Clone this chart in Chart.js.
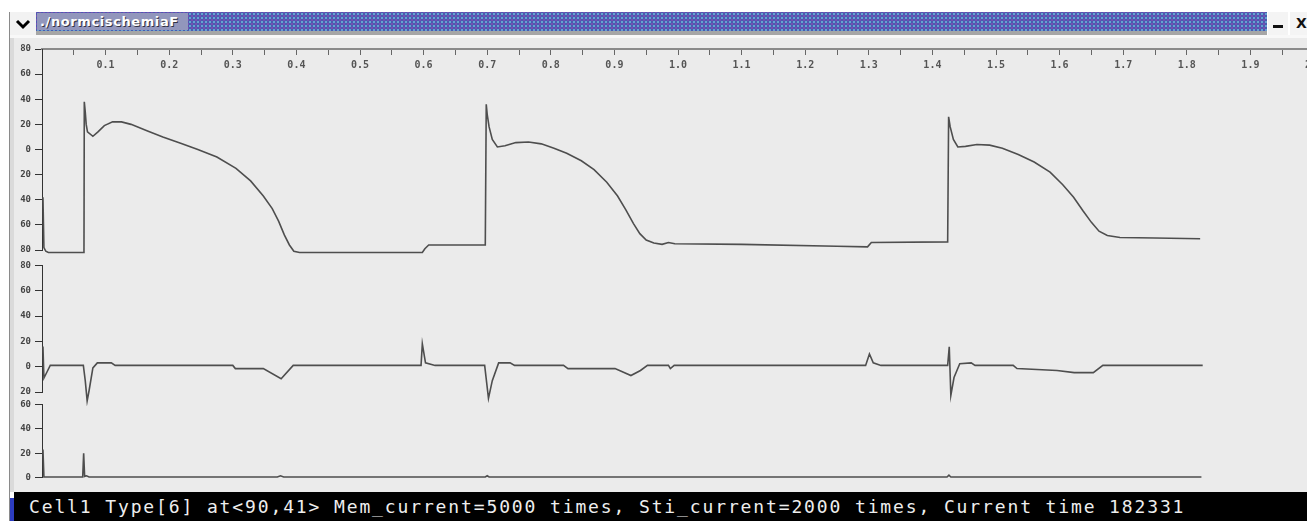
<!DOCTYPE html>
<html>
<head>
<meta charset="utf-8">
<script src="https://cdn.jsdelivr.net/npm/chart.js@4"></script>
<style>
html,body{margin:0;padding:0;background:#fff;width:1307px;height:521px;overflow:hidden;position:relative}
div,canvas,svg{position:absolute}
#frameL{left:9px;top:12px;width:1px;height:509px;background:#8a8a8a}
#frameIn{left:10px;top:38px;width:4px;height:454px;background:#dadada}
#menuBtn{left:10px;top:12px;width:26px;height:23px;background:#f2f2f2}
#titleBar{left:36px;top:12px;width:1231px;height:19px;
  background:radial-gradient(circle,rgba(120,210,230,.6) 0.7px,transparent 1.3px) 0 0/4px 4px,
             radial-gradient(circle,rgba(150,70,180,.55) 0.7px,transparent 1.3px) 2px 2px/4px 4px,#4b5bb0}
#titleBand{left:36px;top:31px;width:1231px;height:4px;background:#a6a6a6}
#titleText{left:37px;top:13px;width:148px;height:17px;padding-left:3px;background:#9296bc;color:#fff;
  font:bold 13px "DejaVu Sans",sans-serif;letter-spacing:0.6px;line-height:17px;text-shadow:1px 1px 0 #334;white-space:nowrap}
#minBtn{left:1268px;top:12px;width:20px;height:23px;background:#f4f4f4}
#minBar{left:1273px;top:25px;width:10px;height:3px;background:#111}
#closeBtn{left:1290px;top:12px;width:17px;height:23px;background:#f4f4f4;color:#111;
  font:bold 14px "DejaVu Sans",sans-serif;line-height:23px;text-indent:6px}
#sep{left:10px;top:35px;width:1297px;height:3px;background:#f8f8f8}
#content{left:14px;top:38px;width:1293px;height:454px;background:#ebebeb}
#status{left:14px;top:492px;width:1293px;height:29px;background:#000;color:#eeeeee;
  font:18px "DejaVu Sans Mono",monospace;letter-spacing:1.87px;line-height:29px;text-indent:15px;white-space:nowrap}
#blueBit{left:10px;top:498px;width:4px;height:23px;background:#2c3cbf}
</style>
</head>
<body>
<div id="frameL"></div>
<div id="frameIn"></div>
<div id="menuBtn"><svg width="26" height="23"><polyline points="7,9 13,15 19,9" fill="none" stroke="#000" stroke-width="3"/></svg></div>
<div id="titleBar"></div>
<div id="titleBand"></div>
<div id="titleText">./normcischemiaF</div>
<div id="minBtn"></div>
<div id="minBar"></div>
<div id="closeBtn">X</div>
<div id="sep"></div>
<div id="content"></div>
<canvas id="p1" width="1320" height="224" style="left:14px;top:38px"></canvas>
<canvas id="p2" width="1320" height="150" style="left:14px;top:256px"></canvas>
<canvas id="p3" width="1320" height="92" style="left:14px;top:395px"></canvas>
<div id="status">Cell1 Type[6] at&lt;90,41&gt; Mem_current=5000 times, Sti_current=2000 times, Current time 182331</div>
<div id="blueBit"></div>
<script>
const xTickLabels = ['', '0.1', '0.2', '0.3', '0.4', '0.5', '0.6', '0.7', '0.8', '0.9', '1.0',
    '1.1', '1.2', '1.3', '1.4', '1.5', '1.6', '1.7', '1.8', '1.9', '2.0'];

// top trace: membrane potential
const apTime = [0.0015, 0.003, 0.006, 0.010, 0.063, 0.066, 0.0665, 0.068, 0.0695, 0.0715, 0.080, 0.088,
    0.098, 0.111, 0.125, 0.140, 0.165, 0.190, 0.218, 0.245, 0.275, 0.305, 0.328, 0.348, 0.362, 0.372,
    0.381, 0.389, 0.396, 0.405, 0.598, 0.602, 0.608, 0.697, 0.6985, 0.700, 0.703, 0.708, 0.716, 0.728,
    0.745, 0.765, 0.785, 0.805, 0.825, 0.848, 0.868, 0.888, 0.905, 0.918, 0.930, 0.940, 0.950, 0.962,
    0.975, 0.985, 0.995, 1.100, 1.250, 1.298, 1.304, 1.424, 1.4255, 1.428, 1.433, 1.440, 1.452, 1.470,
    1.490, 1.510, 1.535, 1.560, 1.585, 1.605, 1.622, 1.637, 1.650, 1.662, 1.675, 1.695, 1.750, 1.821];
const apValue = [-38, -78, -81, -82, -82, -82, 38, 30, 20, 14, 10.5, 14,
    19, 22, 22, 20, 15, 10, 5, 0, -6, -15, -25, -37, -47, -57,
    -68, -76, -81, -82, -82, -79, -76, -76, 36, 28, 18, 8, 2, 3,
    5.5, 6, 4.5, 1, -3, -9, -16, -26, -37, -48, -59, -67, -72, -74.5,
    -75.5, -74, -75, -75.5, -77, -77.5, -74, -73.5, 26, 18, 8, 2, 2.5, 4,
    3.5, 1, -4, -10, -18, -28, -38, -49, -58, -65, -68.5, -70, -70.5, -71];

// middle trace
const ecgTime = [0.0015, 0.003, 0.008, 0.013, 0.065, 0.068, 0.071, 0.074, 0.080, 0.087, 0.109, 0.115,
    0.300, 0.304, 0.348, 0.376, 0.395, 0.596, 0.598, 0.603, 0.618, 0.696, 0.702, 0.708, 0.718, 0.736,
    0.743, 0.820, 0.827, 0.901, 0.926, 0.941, 0.952, 0.985, 0.988, 0.994, 1.295, 1.301, 1.307, 1.319,
    1.424, 1.4265, 1.429, 1.434, 1.443, 1.461, 1.467, 1.527, 1.533, 1.596, 1.623, 1.653, 1.668, 1.825];
const ecgValue = [16, -9, -4, 1, 1, -11, -27, -19, -1, 3, 3, 1,
    1, -1.5, -1.5, -9.5, 1, 1, 18, 3, 1, 1, -25, -11, 3, 3,
    1, 1, -1.5, -1.5, -7, -3, 1, 1, -1.5, 1, 1, 10, 3, 1,
    1, 15.7, -22.7, -8.6, 2.4, 3, 1, 1, -1.5, -3, -4.7, -4.7, 1, 1];

// bottom trace: stimulus current
const stimTime = [0.0015, 0.003, 0.064, 0.0655, 0.067, 0.070, 0.074, 0.370, 0.375, 0.380,
    0.697, 0.700, 0.703, 1.423, 1.426, 1.429, 1.823];
const stimValue = [23, 0.5, 0.5, 20, 1, 1.5, 0.5, 0.5, 1.5, 0.5,
    0.5, 1.5, 0.5, 0.5, 2, 0.5, 0.5];

const labelFont = { family: 'DejaVu Sans Mono', size: 9, weight: 'bold' };

function panel(id, times, values, yMin, yMax, showTime, pad) {
    new Chart(document.getElementById(id), {
        type: 'line',
        data: {
            datasets: [{
                data: times.map((t, i) => ({ x: t, y: values[i] })),
                borderColor: '#4e4e4e',
                borderWidth: 1.6,
                pointRadius: 0,
                tension: 0,
                clip: false
            }]
        },
        options: {
            responsive: false,
            animation: false,
            devicePixelRatio: 1,
            layout: { padding: pad },
            plugins: { legend: { display: false }, tooltip: { enabled: false } },
            scales: {
                x: {
                    type: 'linear',
                    display: showTime,
                    // time ruler sits on the top edge of the panel, ticks hanging down
                    position: { y: yMax },
                    min: 0,
                    max: 2,
                    ticks: {
                        stepSize: 0.05,
                        autoSkip: false,
                        maxRotation: 0,
                        padding: 5,
                        color: '#555',
                        font: { family: 'DejaVu Sans Mono', size: 10, weight: 'bold' },
                        callback: v => {
                            const k = Math.round(v * 20);
                            return k % 2 ? '' : xTickLabels[k / 2];
                        }
                    },
                    grid: { drawOnChartArea: false, tickLength: 5, color: '#666' },
                    border: { color: '#8a8a8a', width: 2 }
                },
                y: {
                    min: yMin,
                    max: yMax,
                    ticks: {
                        stepSize: 20,
                        padding: 4,
                        color: '#444',
                        font: labelFont,
                        callback: v => String(Math.abs(v))
                    },
                    grid: { drawOnChartArea: false, tickLength: 7, color: '#333' },
                    border: { color: '#333', width: 1 },
                    afterFit: s => { s.width = 28; }
                }
            }
        }
    });
}

panel('p1', apTime, apValue, -80, 80, true, { top: 11, right: 20, bottom: 12, left: 0 });
panel('p2', ecgTime, ecgValue, -20, 80, false, { top: 8, right: 20, bottom: 14, left: 0 });
panel('p3', stimTime, stimValue, 0, 60, false, { top: 8, right: 20, bottom: 8, left: 0 });
</script>
</body>
</html>
